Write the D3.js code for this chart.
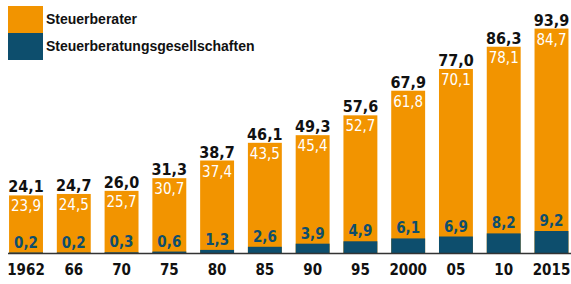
<!DOCTYPE html>
<html>
<head>
<meta charset="utf-8">
<script src="https://cdn.jsdelivr.net/npm/d3@7"></script>
<style>
  body { margin: 0; background: #fff; }
  svg { display: block; }
  text { font-family: "DejaVu Sans Condensed", "Liberation Sans", sans-serif; font-weight: bold; }
</style>
</head>
<body>
<div id="chart"></div>
<script>
// years on the x axis
var years = ["1962", "66", "70", "75", "80", "85", "90", "95", "2000", "05", "10", "2015"];
// Steuerberater (thousands)
var berater = [23.9, 24.5, 25.7, 30.7, 37.4, 43.5, 45.4, 52.7, 61.8, 70.1, 78.1, 84.7];
// Steuerberatungsgesellschaften (thousands)
var gesellschaften = [0.2, 0.2, 0.3, 0.6, 1.3, 2.6, 3.9, 4.9, 6.1, 6.9, 8.2, 9.2];
var legendLabels = ["Steuerberater", "Steuerberatungsgesellschaften"];

var cOrange = "#f29400";
var cBlue = "#0d4e6d";

var iWidth = 571, iHeight = 284;
var fmt = function(v) { return d3.format(".1f")(v).replace(".", ","); };

var data = years.map(function(y, i) {
    return { year: y, a: berater[i], b: gesellschaften[i], total: berater[i] + gesellschaften[i] };
});

var dSVG = d3.select("#chart").append("svg")
    .attr("width", iWidth)
    .attr("height", iHeight);

var x = d3.scaleBand().domain(years).range([-0.5, 578]).paddingInner(0.29).paddingOuter(0.2);
var y = d3.scaleLinear().domain([0, 100]).range([253, 14]);

var dBars = dSVG.append("g").selectAll("g").data(data).enter().append("g");

// full stacked bar (orange) then blue part on bottom
dBars.append("rect")
    .attr("x", function(d) { return x(d.year); })
    .attr("width", x.bandwidth())
    .attr("y", function(d) { return y(d.total); })
    .attr("height", function(d) { return y(0) - y(d.total); })
    .attr("fill", cOrange);

dBars.append("rect")
    .attr("x", function(d) { return x(d.year); })
    .attr("width", x.bandwidth())
    .attr("y", function(d) { return y(d.b); })
    .attr("height", function(d) { return y(0) - y(d.b); })
    .attr("fill", cBlue);

var cx = function(d) { return x(d.year) + x.bandwidth() / 2; };

// totals
dBars.append("text")
    .attr("x", cx)
    .attr("y", function(d) { return y(d.total) - 3; })
    .attr("text-anchor", "middle")
    .attr("font-size", 16)
    .attr("fill", "#111")
    .text(function(d) { return fmt(d.total); });

// Steuerberater values
dBars.append("text")
    .attr("x", cx)
    .attr("y", function(d) { return y(d.total) + 16; })
    .attr("text-anchor", "middle")
    .attr("font-size", 15)
    .style("font-weight", "normal")
    .attr("fill", "#fff")
    .text(function(d) { return fmt(d.a); });

// Gesellschaften values
dBars.append("text")
    .attr("x", cx)
    .attr("y", function(d) { return y(d.b) - 5; })
    .attr("text-anchor", "middle")
    .attr("font-size", 15)
    .attr("fill", cBlue)
    .text(function(d) { return fmt(d.b); });

// baseline
dSVG.append("line")
    .attr("x1", 8).attr("x2", iWidth)
    .attr("y1", y(0) + 0.5).attr("y2", y(0) + 0.5)
    .attr("stroke", "#333").attr("stroke-width", 1.5);

// x axis labels
var xAxis = d3.axisBottom(x).tickSize(0).tickPadding(11);
var dAxis = dSVG.append("g").attr("transform", "translate(0," + y(0) + ")").call(xAxis);
dAxis.select(".domain").remove();
dAxis.selectAll("text")
    .attr("font-size", 15)
    .attr("fill", "#111")
    .style("font-family", "'DejaVu Sans Condensed', sans-serif")
    .style("font-weight", "bold");

// legend
var dLegend = dSVG.append("g");
[cOrange, cBlue].forEach(function(c, i) {
    dLegend.append("rect")
        .attr("x", 8).attr("y", 6 + i * 27)
        .attr("width", 35).attr("height", 27)
        .attr("fill", c);
    dLegend.append("text")
        .attr("x", 46).attr("y", 24 + i * 27)
        .attr("font-size", 14)
        .attr("fill", "#111")
        .style("font-family", "'Liberation Sans', sans-serif")
        .text(legendLabels[i]);
});
</script>
</body>
</html>
